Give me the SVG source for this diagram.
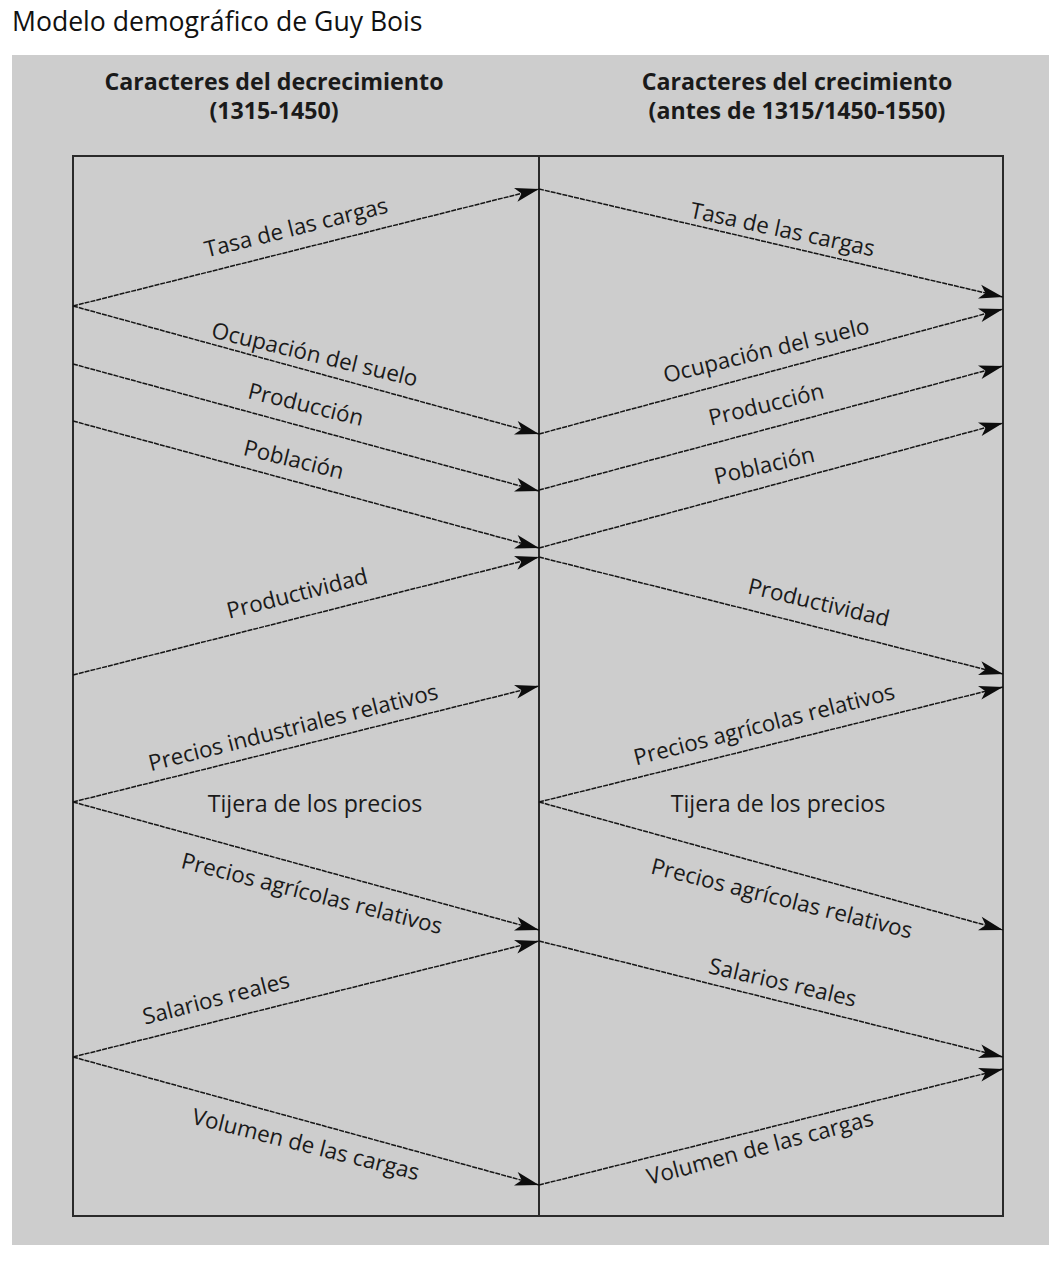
<svg xmlns="http://www.w3.org/2000/svg" width="1060" height="1264" viewBox="0 0 1060 1264">
<style>
.lbl{font-family:"Open Sans","Noto Sans",sans-serif;font-size:22.4px;fill:#1a1a1a;text-anchor:middle}
.mid{font-size:23.2px}
.hdr{font-family:"Open Sans","Noto Sans",sans-serif;font-size:23.2px;font-weight:bold;fill:#1a1a1a;text-anchor:middle}
.ttl{font-family:"Open Sans","Noto Sans",sans-serif;font-size:26.6px;fill:#111}
.arr{stroke:#151515;stroke-width:1.5;fill:none;stroke-dasharray:5 1;marker-end:url(#ah)}
.frame{stroke:#2a2a2a;stroke-width:2;fill:none}
</style>
<defs>
<marker id="ah" markerUnits="userSpaceOnUse" markerWidth="28" markerHeight="18" viewBox="-26 -9 28 18" refX="0" refY="0" orient="auto">
<path d="M0,0 L-24,-7 L-18,0 L-24,7 Z" fill="#0d0d0d"/>
</marker>
</defs>
<rect width="1060" height="1264" fill="#ffffff"/>
<text id="title" class="ttl" x="12" y="31">Modelo demográfico de Guy Bois</text>
<rect id="panel" x="12" y="55" width="1037" height="1190" fill="#cdcdcd"/>
<g id="header-left">
<text class="hdr" x="274" y="90">Caracteres del decrecimiento</text>
<text class="hdr" x="274" y="119">(1315-1450)</text>
</g>
<g id="header-right">
<text class="hdr" x="797" y="90">Caracteres del crecimiento</text>
<text class="hdr" x="797" y="119">(antes de 1315/1450-1550)</text>
</g>
<g id="frame">
<rect class="frame" x="73" y="156" width="930" height="1060"/>
<line class="frame" x1="539" y1="156" x2="539" y2="1216"/>
</g>
<g id="connectors">
<line class="arr" x1="73" y1="306" x2="539" y2="189"/>
<line class="arr" x1="73" y1="306" x2="539" y2="434"/>
<line class="arr" x1="73" y1="364" x2="539" y2="491"/>
<line class="arr" x1="73" y1="421" x2="539" y2="548"/>
<line class="arr" x1="73" y1="675" x2="539" y2="557"/>
<line class="arr" x1="73" y1="802" x2="539" y2="686"/>
<line class="arr" x1="73" y1="802" x2="539" y2="930"/>
<line class="arr" x1="73" y1="1057" x2="539" y2="941"/>
<line class="arr" x1="73" y1="1057" x2="539" y2="1185"/>
<line class="arr" x1="539" y1="189" x2="1003" y2="297"/>
<line class="arr" x1="539" y1="434" x2="1003" y2="309"/>
<line class="arr" x1="539" y1="490" x2="1003" y2="366"/>
<line class="arr" x1="539" y1="548" x2="1003" y2="423"/>
<line class="arr" x1="539" y1="557" x2="1003" y2="674"/>
<line class="arr" x1="539" y1="802" x2="1003" y2="687"/>
<line class="arr" x1="539" y1="802" x2="1003" y2="930"/>
<line class="arr" x1="539" y1="941" x2="1003" y2="1057"/>
<line class="arr" x1="539" y1="1185" x2="1003" y2="1069"/>
</g>
<g id="labels-left">
<text class="lbl" transform="translate(298,235) rotate(-13.9)">Tasa de las cargas</text>
<text class="lbl" transform="translate(313,362) rotate(13.5)">Ocupación del suelo</text>
<text class="lbl" transform="translate(304,412) rotate(13.8)">Producción</text>
<text class="lbl" transform="translate(292,467) rotate(13.9)">Población</text>
<text class="lbl" transform="translate(299,601) rotate(-14.3)">Productividad</text>
<text class="lbl" transform="translate(295,735) rotate(-14.1)">Precios industriales relativos</text>
<text class="lbl mid" x="315" y="812">Tijera de los precios</text>
<text class="lbl" transform="translate(310,901) rotate(14.3)">Precios agrícolas relativos</text>
<text class="lbl" transform="translate(218,1006) rotate(-14.5)">Salarios reales</text>
<text class="lbl" transform="translate(304,1152) rotate(14.1)">Volumen de las cargas</text>
</g>
<g id="labels-right">
<text class="lbl" transform="translate(781,237) rotate(12)">Tasa de las cargas</text>
<text class="lbl" transform="translate(768,358) rotate(-13.7)">Ocupación del suelo</text>
<text class="lbl" transform="translate(768,412) rotate(-13.6)">Producción</text>
<text class="lbl" transform="translate(766,473) rotate(-13)">Población</text>
<text class="lbl" transform="translate(817,610) rotate(13.4)">Productividad</text>
<text class="lbl" transform="translate(766,732) rotate(-14.4)">Precios agrícolas relativos</text>
<text class="lbl mid" x="778" y="812">Tijera de los precios</text>
<text class="lbl" transform="translate(780,906) rotate(14.1)">Precios agrícolas relativos</text>
<text class="lbl" transform="translate(781,990) rotate(13)">Salarios reales</text>
<text class="lbl" transform="translate(762,1155) rotate(-14.9)">Volumen de las cargas</text>
</g>
</svg>
